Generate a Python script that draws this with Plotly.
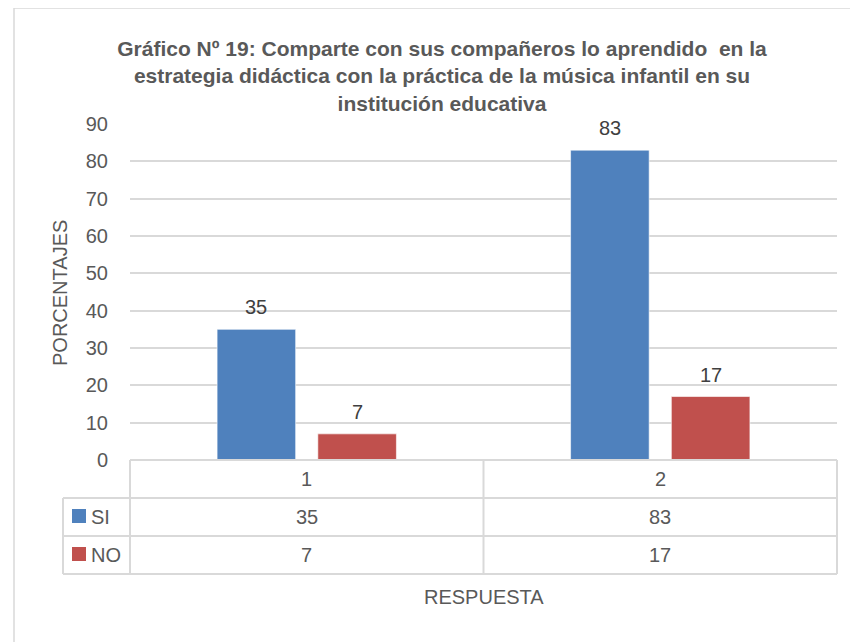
import plotly.graph_objects as go

# datos del gráfico
categorias = ["1", "2"]
serie_si = [35, 83]
serie_no = [7, 17]
nombres = ["SI", "NO"]
y_ticks = [0, 10, 20, 30, 40, 50, 60, 70, 80, 90]

titulo = ("<b>Gráfico Nº 19: Comparte con sus compañeros lo aprendido  en la<br>"
          "estrategia didáctica con la práctica de la música infantil en su<br>"
          "institución educativa</b>")

COLORS = {"si": "#4F81BD", "no": "#C0504D", "grid": "#D9D9D9", "text": "#595959", "label": "#404040"}
FONT = "Liberation Sans, Arial, sans-serif"

# la página añade 8 px de margen al cuerpo
OFF = 8
W, H = 850, 634
SX0, SX1, SY0, SY1 = 130, 837, 124, 460   # área de trazado en la captura
L, R, T, B = SX0 - OFF, W - (SX1 - OFF), SY0 - OFF, H - (SY1 - OFF)

BARGAP = 0.43
GROUPGAP = 0.22


def py(sy):
    """y de la captura -> coordenada paper."""
    return (SY1 - sy) / (SY1 - SY0)


def px(sx):
    """x de la captura -> coordenada paper."""
    return (sx - SX0) / (SX1 - SX0)


series = [(nombres[0], serie_si, COLORS["si"]), (nombres[1], serie_no, COLORS["no"])]
idx = list(range(len(categorias)))

fig = go.Figure()
for nombre, vals, col in series:
    fig.add_trace(
        go.Bar(
            x=idx,
            y=vals,
            name=nombre,
            marker=dict(color=col, line=dict(color="rgba(255,255,255,0.6)", width=1)),
            hoverinfo="y+name",
        )
    )

annotations = []
fnt = dict(size=20, color=COLORS["text"], family=FONT)


def texto(x, y, t, xref="paper", yref="paper", **kw):
    d = dict(x=x, y=y, xref=xref, yref=yref, text=t, showarrow=False, font=fnt,
             xanchor="center", yanchor="middle")
    d.update(kw)
    return d


# etiquetas de datos sobre las barras
slot = (1 - BARGAP) / len(series)
for j, (nombre, vals, col) in enumerate(series):
    off = (j - (len(series) - 1) / 2) * slot
    for i, v in zip(idx, vals):
        annotations.append(texto(i + off, v, str(v), xref="x", yref="y", yanchor="bottom", yshift=9,
                                 font=dict(size=20, color=COLORS["label"], family=FONT)))

# tabla de datos debajo del eje
gris = "#D9D9D9"
filas = [SY1, 498, 536, 574]
tabla_x0 = 63
shapes = []
shapes.append(dict(type="line", xref="paper", yref="paper", x0=0, x1=1, y0=py(filas[0]), y1=py(filas[0]),
                   line=dict(color=gris, width=2)))
for yy in filas[1:]:
    shapes.append(dict(type="line", xref="paper", yref="paper", x0=px(tabla_x0), x1=1, y0=py(yy), y1=py(yy),
                       line=dict(color=gris, width=2)))
for xx in [0, 0.5, 1]:
    shapes.append(dict(type="line", xref="paper", yref="paper", x0=xx, x1=xx, y0=py(filas[0]), y1=py(filas[-1]),
                       line=dict(color=gris, width=2)))
shapes.append(dict(type="line", xref="paper", yref="paper", x0=px(tabla_x0), x1=px(tabla_x0), y0=py(filas[1]),
                   y1=py(filas[-1]), line=dict(color=gris, width=2)))
# borde del área del gráfico
shapes.append(dict(type="rect", xref="paper", yref="paper", x0=px(14), x1=px(880), y0=py(8), y1=py(700),
                   line=dict(color="#D9D9D9", width=1.5)))

for i, c in zip(idx, categorias):
    annotations.append(texto(i, py((filas[0] + filas[1]) / 2), c, xref="x"))
for j, (nombre, vals, col) in enumerate(series):
    ymid = py((filas[j + 1] + filas[j + 2]) / 2)
    for i, v in zip(idx, vals):
        annotations.append(texto(i, ymid, str(v), xref="x"))
    annotations.append(texto(px(89), ymid, nombre, xanchor="left"))
    shapes.append(dict(type="rect", xref="paper", yref="paper", x0=px(72), x1=px(86),
                       y0=py(516 + 38 * j + 7), y1=py(516 + 38 * j - 7), fillcolor=col, line=dict(width=0)))

annotations.append(texto(0.5, py(597), "RESPUESTA"))
annotations.append(texto(px(60), py(293), "PORCENTAJES", textangle=-90))

fig.update_layout(
    width=W,
    height=H,
    margin=dict(l=L, r=R, t=T, b=B),
    paper_bgcolor="white",
    plot_bgcolor="white",
    showlegend=False,
    barmode="group",
    bargap=BARGAP,
    bargroupgap=GROUPGAP,
    title=dict(text=titulo, x=(442 - OFF) / W, xanchor="center", y=1 - (56 - OFF) / H, yanchor="middle",
               font=dict(size=21, color=COLORS["text"], family=FONT)),
    font=dict(family=FONT, color=COLORS["text"]),
    shapes=shapes,
    annotations=annotations,
    xaxis=dict(range=[-0.5, len(categorias) - 0.5], showticklabels=False, showgrid=False, zeroline=False,
               showline=False, ticks="", fixedrange=True),
    yaxis=dict(range=[0, 90], tickvals=y_ticks, showgrid=True, gridcolor=COLORS["grid"], gridwidth=2,
               zeroline=False, showline=False, ticks="", tickfont=dict(size=20, color=COLORS["text"]),
               ticklabelstandoff=21),
)

fig.write_html("out.html")
